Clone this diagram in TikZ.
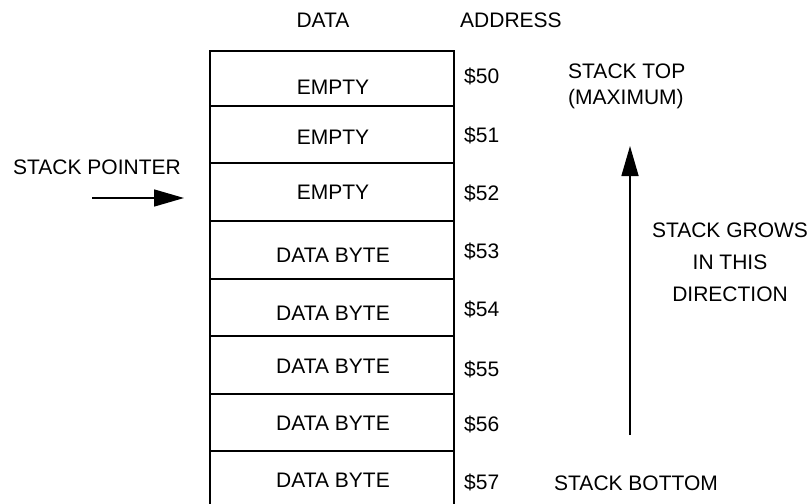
\documentclass[tikz,border=0pt]{standalone}
\usepackage{fontspec}
\setmainfont{Liberation Sans}
\usetikzlibrary{arrows.meta}
\begin{document}
\begin{tikzpicture}[x=1pt,y=-1pt,
  lbl/.style={inner sep=0pt,text height=15pt,text depth=0pt,font=\fontsize{21}{24}\selectfont},
  cell/.style={draw,line width=1.8pt,inner sep=0pt,outer sep=0pt},
  bigarrow/.style={line width=1.5pt,-{Triangle[length=30pt,width=17pt]}}]
\useasboundingbox (0,0) rectangle (810,503);
% cells
\node[cell,minimum width=244pt,minimum height=55pt,anchor=north west] (c0) at (210,51) {};
\node[cell,minimum width=244pt,minimum height=57pt,anchor=north west] (c1) at (210,106) {};
\node[cell,minimum width=244pt,minimum height=58pt,anchor=north west] (c2) at (210,163) {};
\node[cell,minimum width=244pt,minimum height=58pt,anchor=north west] (c3) at (210,221) {};
\node[cell,minimum width=244pt,minimum height=57pt,anchor=north west] (c4) at (210,279) {};
\node[cell,minimum width=244pt,minimum height=58pt,anchor=north west] (c5) at (210,336) {};
\node[cell,minimum width=244pt,minimum height=57pt,anchor=north west] (c6) at (210,394) {};
\coordinate (bl) at (210,451);
\coordinate (br) at (454,451);
\coordinate (bl2) at (210,506);
\coordinate (br2) at (454,506);
\draw[line width=1.8pt,line join=miter] (bl2) -- (bl) -- (br) -- (br2);
% cell texts
\node[lbl] (t0) at (333,87) {EMPTY};
\node[lbl] (t1) at (333,137) {EMPTY};
\node[lbl] (t2) at (333,192) {EMPTY};
\node[lbl] (t3) at (333,255) {DATA BYTE};
\node[lbl] (t4) at (333,313) {DATA BYTE};
\node[lbl] (t5) at (333,366) {DATA BYTE};
\node[lbl] (t6) at (333,423) {DATA BYTE};
\node[lbl] (t7) at (333,480) {DATA BYTE};
% addresses
\node[lbl,anchor=west] (a0) at (464,76) {\$50};
\node[lbl,anchor=west] (a1) at (464,135) {\$51};
\node[lbl,anchor=west] (a2) at (464,193) {\$52};
\node[lbl,anchor=west] (a3) at (464,251) {\$53};
\node[lbl,anchor=west] (a4) at (464,309) {\$54};
\node[lbl,anchor=west] (a5) at (464,369) {\$55};
\node[lbl,anchor=west] (a6) at (464,424) {\$56};
\node[lbl,anchor=west] (a7) at (464,482) {\$57};
% headers
\node[lbl] (hdata) at (323,20) {DATA};
\node[lbl,anchor=west] (haddr) at (460,20) {ADDRESS};
% right labels
\node[lbl,anchor=west] (top1) at (568,71) {STACK TOP};
\node[lbl,anchor=west] (top2) at (568,97) {(MAXIMUM)};
\node[lbl] (g1) at (730,230) {STACK GROWS};
\node[lbl] (g2) at (730,262) {IN THIS};
\node[lbl] (g3) at (730,294) {DIRECTION};
\node[lbl,anchor=west] (bot) at (554,483) {STACK BOTTOM};
% stack pointer
\node[lbl] (sp) at (97,167) {STACK POINTER};
\coordinate (spa) at (92,198);
\coordinate (spb) at (184,198);
\draw[bigarrow] (spa) -- (spb);
% grow arrow
\coordinate (ga) at (630,435);
\coordinate (gb) at (630,146);
\draw[bigarrow] (ga) -- (gb);
\end{tikzpicture}
\end{document}
